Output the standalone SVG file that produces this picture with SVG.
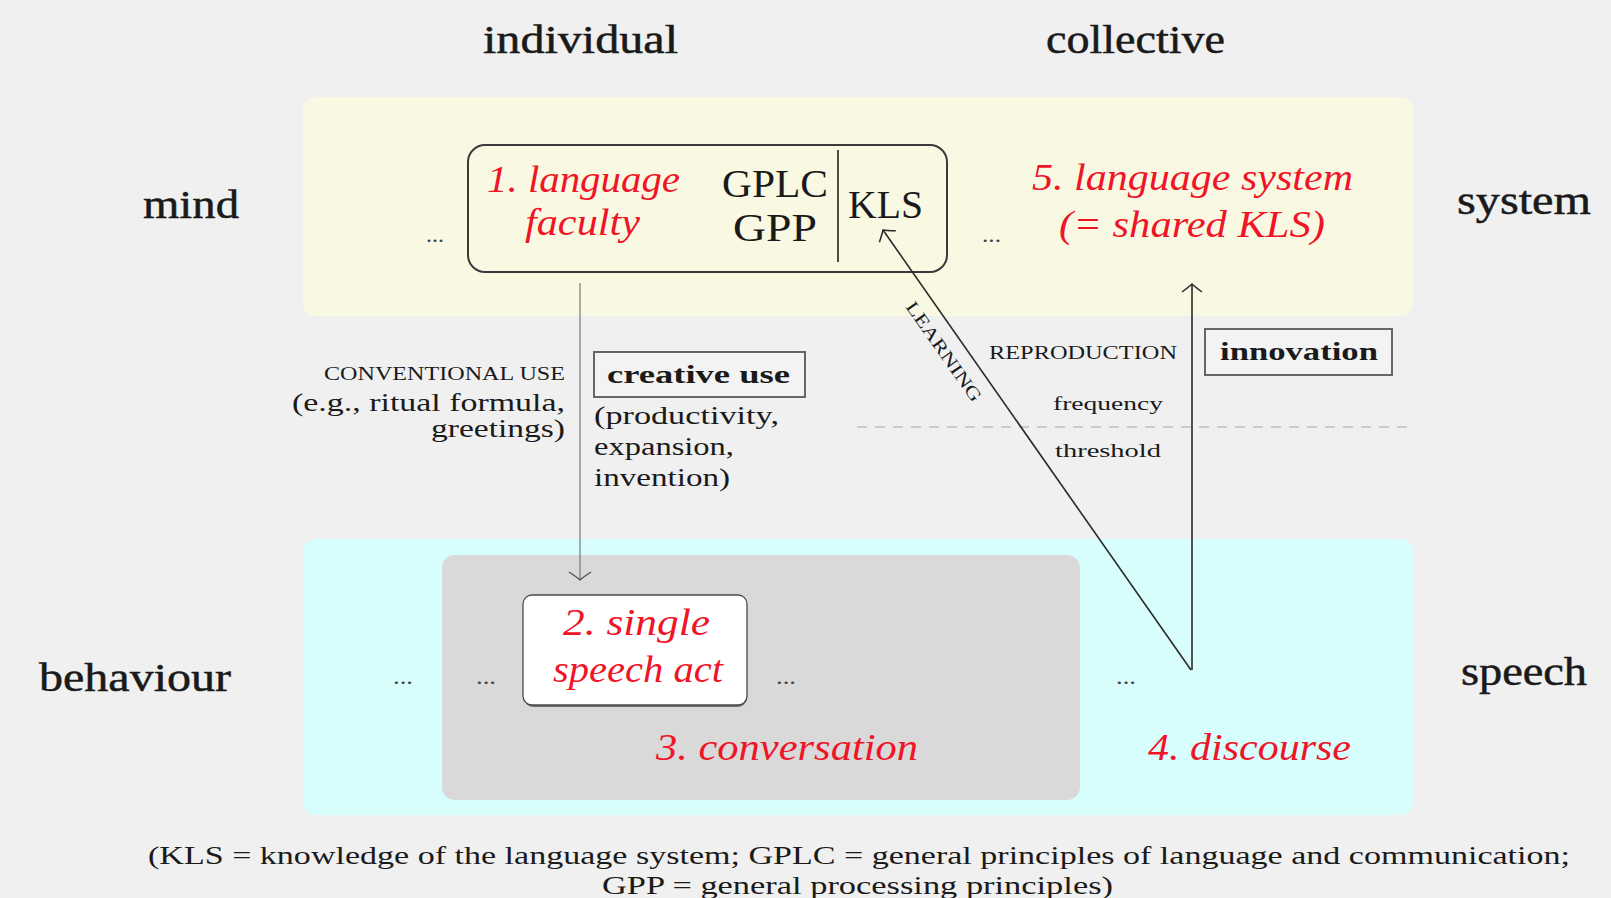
<svg xmlns="http://www.w3.org/2000/svg" width="1611" height="898" viewBox="0 0 1611 898">
  <defs>
    <style>
      .rm { font-family: "Liberation Serif", "DejaVu Serif", serif; fill: #1a1a1a; }
      .head { font-size: 40px; stroke: #1a1a1a; stroke-width: 0.5px; }
      .box { font-size: 39px; }
      .red { font-family: "Liberation Serif", "DejaVu Serif", serif; font-style: italic; font-size: 37px; fill: #f01426; }
      .note { font-size: 25px; }
      .sc { font-size: 18px; }
      .small { font-size: 19px; }
      .bf { font-family: "Liberation Serif", "DejaVu Serif", serif; font-weight: bold; font-size: 26px; fill: #1a1a1a; }
      .dots { font-family: "Liberation Serif", serif; font-size: 22px; fill: #444; }
      .foot { font-size: 25px; }
      .conn { fill: none; stroke: #2a2a2a; stroke-width: 1.6; }
      .thin { fill: none; stroke: #777; stroke-width: 1.2; }
    </style>
    <marker id="tip" viewBox="-10 -12 12 24" markerWidth="12" markerHeight="24" refX="0" refY="0" orient="auto" markerUnits="userSpaceOnUse">
      <path d="M -8 -10 Q -2 -2 0 0 Q -2 2 -8 10" fill="none" stroke="#2a2a2a" stroke-width="1.5"/>
    </marker>
    <marker id="tipgray" viewBox="-10 -13 12 26" markerWidth="12" markerHeight="26" refX="0" refY="0" orient="auto" markerUnits="userSpaceOnUse">
      <path d="M -8 -11 Q -2 -2 0 0 Q -2 2 -8 11" fill="none" stroke="#555" stroke-width="1.4"/>
    </marker>
  </defs>

  <!-- page -->
  <rect x="0" y="0" width="1611" height="898" fill="#f0f0f0"/>

  <!-- column and row headings -->
  <g id="headings">
    <text class="rm head" x="483" y="53" textLength="195" lengthAdjust="spacingAndGlyphs">individual</text>
    <text class="rm head" x="1046" y="53" textLength="179" lengthAdjust="spacingAndGlyphs">collective</text>
    <text class="rm head" x="143" y="218" textLength="96" lengthAdjust="spacingAndGlyphs">mind</text>
    <text class="rm head" x="1457" y="214" textLength="134" lengthAdjust="spacingAndGlyphs">system</text>
    <text class="rm head" x="39" y="691" textLength="192" lengthAdjust="spacingAndGlyphs">behaviour</text>
    <text class="rm head" x="1461" y="685" textLength="126" lengthAdjust="spacingAndGlyphs">speech</text>
  </g>

  <!-- mind / system band -->
  <g id="panel-mind">
    <rect x="303" y="97" width="1110" height="219" rx="13" fill="#f9f9e3"/>
  </g>

  <!-- behaviour / speech band -->
  <g id="panel-behaviour">
    <rect x="303" y="539" width="1110" height="276" rx="13" fill="#d8fdfd"/>
  </g>

  <!-- 3. conversation -->
  <g id="conversation">
    <rect x="442" y="555" width="638" height="245" rx="13" fill="#d9d9d9"/>
    <text class="red" x="656" y="760" textLength="262" lengthAdjust="spacingAndGlyphs">3.  conversation</text>
  </g>

  <!-- 1. language faculty -->
  <g id="language-faculty">
    <rect x="468" y="145" width="479" height="127" rx="17" fill="none" stroke="#3a3a3a" stroke-width="2"/>
    <line x1="838" y1="150" x2="838" y2="262" stroke="#3a3a3a" stroke-width="1.8"/>
    <text class="red" x="487" y="192" textLength="193" lengthAdjust="spacingAndGlyphs">1.  language</text>
    <text class="red" x="525" y="235" textLength="115" lengthAdjust="spacingAndGlyphs">faculty</text>
    <text class="rm box" x="722" y="197" textLength="106" lengthAdjust="spacingAndGlyphs">GPLC</text>
    <text class="rm box" x="733" y="241" textLength="84" lengthAdjust="spacingAndGlyphs">GPP</text>
    <text class="rm box" x="848" y="218" textLength="75" lengthAdjust="spacingAndGlyphs">KLS</text>
  </g>

  <!-- 5. language system -->
  <g id="language-system">
    <text class="red" x="1032" y="190" textLength="321" lengthAdjust="spacingAndGlyphs">5.  language  system</text>
    <text class="red" x="1059" y="237" textLength="266" lengthAdjust="spacingAndGlyphs">(= shared KLS)</text>
  </g>

  <!-- 2. single speech act -->
  <g id="speech-act">
    <rect x="524" y="597" width="223" height="110" rx="9" fill="#555" opacity="0.8"/>
    <rect x="523" y="595" width="224" height="110" rx="9" fill="#ffffff" stroke="#4a4a4a" stroke-width="1.3"/>
    <text class="red" x="563" y="635" textLength="147" lengthAdjust="spacingAndGlyphs">2.  single</text>
    <text class="red" x="553" y="682" textLength="170" lengthAdjust="spacingAndGlyphs">speech act</text>
  </g>

  <!-- 4. discourse -->
  <g id="discourse">
    <text class="red" x="1148" y="760" textLength="203" lengthAdjust="spacingAndGlyphs">4.  discourse</text>
  </g>

  <!-- continuation dots -->
  <g id="ellipses">
    <text class="dots" x="426" y="242" textLength="18" lengthAdjust="spacingAndGlyphs">...</text>
    <text class="dots" x="982" y="242" textLength="19" lengthAdjust="spacingAndGlyphs">...</text>
    <text class="dots" x="393" y="684" textLength="20" lengthAdjust="spacingAndGlyphs">...</text>
    <text class="dots" x="476" y="684" textLength="20" lengthAdjust="spacingAndGlyphs">...</text>
    <text class="dots" x="776" y="684" textLength="20" lengthAdjust="spacingAndGlyphs">...</text>
    <text class="dots" x="1116" y="684" textLength="20" lengthAdjust="spacingAndGlyphs">...</text>
  </g>

  <!-- conventional use annotation -->
  <g id="conventional-use">
    <text class="rm sc" x="324" y="380" textLength="241" lengthAdjust="spacingAndGlyphs">CONVENTIONAL USE</text>
    <text class="rm note" x="565" y="411" text-anchor="end" textLength="273" lengthAdjust="spacingAndGlyphs">(e.g., ritual formula,</text>
    <text class="rm note" x="565" y="437" text-anchor="end" textLength="134" lengthAdjust="spacingAndGlyphs">greetings)</text>
  </g>

  <!-- creative use -->
  <g id="creative-use">
    <rect x="594" y="352" width="211" height="45" fill="#f3f3f3" stroke="#666" stroke-width="2"/>
    <text class="bf" x="607" y="383" textLength="183" lengthAdjust="spacingAndGlyphs">creative use</text>
    <text class="rm note" x="594" y="424" textLength="185" lengthAdjust="spacingAndGlyphs">(productivity,</text>
    <text class="rm note" x="594" y="455" textLength="140" lengthAdjust="spacingAndGlyphs">expansion,</text>
    <text class="rm note" x="594" y="486" textLength="136" lengthAdjust="spacingAndGlyphs">invention)</text>
  </g>

  <!-- reproduction / innovation -->
  <g id="reproduction">
    <text class="rm sc" x="989" y="359" textLength="188" lengthAdjust="spacingAndGlyphs">REPRODUCTION</text>
    <text class="rm small" x="1053" y="410" textLength="110" lengthAdjust="spacingAndGlyphs">frequency</text>
    <text class="rm small" x="1055" y="457" textLength="106" lengthAdjust="spacingAndGlyphs">threshold</text>
  </g>
  <g id="innovation">
    <rect x="1205" y="329" width="187" height="46" fill="#f3f3f3" stroke="#666" stroke-width="2"/>
    <text class="bf" x="1220" y="360" textLength="158" lengthAdjust="spacingAndGlyphs">innovation</text>
  </g>

  <!-- connectors -->
  <g id="connectors">
    <line x1="857" y1="427" x2="1408" y2="427" stroke="#bdbdbd" stroke-width="1.4" stroke-dasharray="10 8"/>
    <path class="thin" d="M 580 283 L 580 580" marker-end="url(#tipgray)"/>
    <path class="conn" d="M 1192 670 L 1192 284" marker-end="url(#tip)"/>
    <path class="conn" d="M 1191 670 L 883 230" marker-end="url(#tip)"/>
    <text class="rm sc" x="0" y="0" text-anchor="middle" textLength="118" lengthAdjust="spacingAndGlyphs" transform="translate(939 355) rotate(54.9)">LEARNING</text>
  </g>

  <!-- abbreviations -->
  <g id="legend">
    <text class="rm foot" x="148" y="864" textLength="1422" lengthAdjust="spacingAndGlyphs">(KLS = knowledge of the language system; GPLC = general principles of language and communication;</text>
    <text class="rm foot" x="602" y="894" textLength="511" lengthAdjust="spacingAndGlyphs">GPP = general processing principles)</text>
  </g>
</svg>
